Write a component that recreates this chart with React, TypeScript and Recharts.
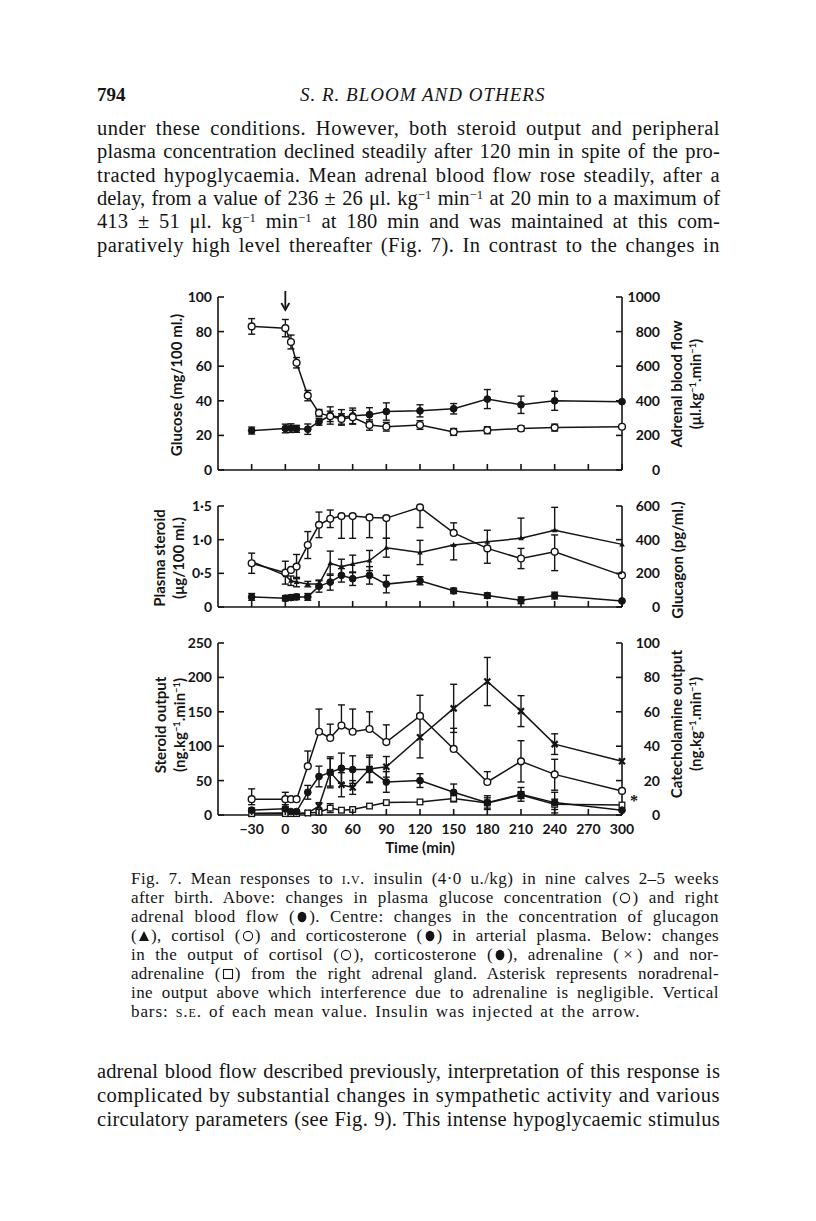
import React from 'react';
import { ComposedChart, Line, XAxis, YAxis, ErrorBar, ReferenceDot } from 'recharts';

// ---------- data ----------
const TIME = [-30, 0, 5, 10, 20, 30, 40, 50, 60, 75, 90, 120, 150, 180, 210, 240, 300];
const X_TICKS = [-30, 0, 30, 60, 90, 120, 150, 180, 210, 240, 270, 300];

// Top panel
const GLUCOSE = [83, 82, 74, 62, 43, 33, 31, 29.5, 30.5, 26, 25, 26, 22, 23, 24, 24.5, 25];
const GLUCOSE_SE: ([number, number] | null)[] = [[4.5, 4.5], [5, 5], [4, 4], [3, 3], [3, 3], [2, 2], [3, 3], [3, 3], [4, 4], [3, 3], [2.5, 2.5], [2.5, 2.5], [2, 2], [2, 2], [1.5, 1.5], [2, 2], null];
const BLOOD_FLOW = [228, 240, 242, 238, 236, 279, 315, 304, 313, 320, 338, 342, 354, 410, 377, 400, 395];
const BLOOD_FLOW_SE: ([number, number] | null)[] = [[20, 20], [25, 25], [25, 25], [20, 20], [30, 30], [20, 20], [50, 50], [45, 45], [45, 45], [40, 40], [50, 50], [35, 35], [30, 30], [55, 55], [50, 50], [55, 55], null];

// Middle panel
const CORTISOL_P = [0.65, 0.51, 0.55, 0.6, 0.92, 1.22, 1.31, 1.35, 1.35, 1.33, 1.32, 1.48, 1.1, 0.87, 0.72, 0.82, 0.47];
const CORTISOL_P_SE: ([number, number] | null)[] = [[0.15, 0.15], [0.17, 0.17], null, [0.18, 0.18], [0.2, 0.2], [0.19, 0.19], [0.13, 0.13], [0.33, 0.03], [0.33, 0.03], [0.3, 0.03], [0.3, 0.03], [0.3, 0], [0, 0.15], [0.22, 0.27], [0.15, 0.15], [0.28, 0.25], null];
const CORTICO_P = [0.15, 0.13, 0.14, 0.15, 0.15, 0.31, 0.37, 0.47, 0.42, 0.47, 0.34, 0.39, 0.24, 0.17, 0.1, 0.17, 0.09];
const CORTICO_P_SE: ([number, number] | null)[] = [[0.05, 0.05], [0.04, 0.04], [0.04, 0.04], [0.04, 0.04], [0.05, 0.05], [0.09, 0.09], [0.12, 0.12], [0.1, 0.1], [0.1, 0.1], [0.13, 0.13], [0.13, 0.13], [0.06, 0.06], [0.04, 0.04], [0.04, 0.04], [0.05, 0.05], [0.05, 0.05], null];
const GLUCAGON = [270, 188, 156, 148, 136, 136, 260, 240, 256, 276, 352, 324, 368, 388, 408, 456, 372];
const GLUCAGON_SE: ([number, number] | null)[] = [null, null, [28, 28], [28, 28], [16, 16], [20, 20], [72, 72], [44, 44], [52, 52], [60, 60], [56, 56], [72, 72], [88, 0], null, [0, 120], [0, 136], null];

// Bottom panel
const CORTISOL_OUT = [23, 23, 23, 23, 71, 121, 112, 130, 121, 125, 106, 144, 96, 48, 78, 59, 35];
const CORTISOL_OUT_SE: ([number, number] | null)[] = [[8, 15], [8, 10], null, null, [0, 22], [0, 33], [0, 20], [0, 30], [0, 33], [0, 25], [0, 25], [0, 30], [0, 30], [0, 15], [30, 30], [23, 22], null];
const CORTICO_OUT = [7, 9, 5, 5, 33, 56, 62, 68, 66, 66, 48, 50, 33, 18, 30, 18, 7];
const CORTICO_OUT_SE: ([number, number] | null)[] = [[3, 3], [3, 3], null, null, [10, 10], [15, 15], [20, 20], [22, 22], [20, 20], [18, 18], [15, 15], [10, 10], [12, 12], [10, 10], [10, 10], [15, 15], null];
const ADRENALINE = [0.8, 1.2, 1, 1, 1.2, 5.2, 24.8, 17.6, 16, 26.8, 28, 45.2, 62, 77.6, 60.4, 41.2, 31.2];
const ADRENALINE_SE: ([number, number] | null)[] = [null, null, null, null, null, [2, 2], [9, 9], [7, 7], [4, 4], [8, 8], [6, 6], [12, 12], [14, 14], [14, 14], [9, 9], [6, 6], null];
const NORADRENALINE = [0.8, 0.8, 0.8, 0.8, 1.2, 1.6, 4, 2.8, 3.2, 5.2, 7.2, 7.6, 9.6, 7, 11.6, 6.2, 5.8];
const NORADRENALINE_SE: ([number, number] | null)[] = [null, null, null, null, null, [1, 1], [2.6, 2.6], [1, 1], [1, 1], null, null, null, [2, 2], [3, 3], [2, 2], [3, 3], null];
const ASTERISK_LEVEL = 9;

const topRows = TIME.map((t, i) => ({ t, glu: GLUCOSE[i], gluSE: GLUCOSE_SE[i], abf: BLOOD_FLOW[i], abfSE: BLOOD_FLOW_SE[i] }));
const midRows = TIME.map((t, i) => ({ t, cort: CORTISOL_P[i], cortSE: CORTISOL_P_SE[i], cs: CORTICO_P[i], csSE: CORTICO_P_SE[i], gcg: GLUCAGON[i], gcgSE: GLUCAGON_SE[i] }));
const botRows = TIME.map((t, i) => ({ t, cort: CORTISOL_OUT[i], cortSE: CORTISOL_OUT_SE[i], cs: CORTICO_OUT[i], csSE: CORTICO_OUT_SE[i], adr: ADRENALINE[i], adrSE: ADRENALINE_SE[i], nor: NORADRENALINE[i], norSE: NORADRENALINE_SE[i] }));

// ---------- styles ----------
const INK = '#141414';
const SANS = 'Lato, "Open Sans", sans-serif';
const SERIF = '"Liberation Serif", "Times New Roman", serif';
const AXW = 1.6;
const LW = 1.5;

const fmtInt = (v: number) => (v < 0 ? '\u2212' + Math.abs(v) : String(v));
const fmtDot = (v: number) => (v === 0 ? '0' : v.toFixed(1).replace('.', '\u00B7'));

const leftTick = (fmt: (v: number) => string) => (p: any) => (
  <g key={`lt${p.index}`}>
    <line x1={p.x} y1={p.y} x2={p.x + 6} y2={p.y} stroke={INK} strokeWidth={AXW} />
    <text x={p.x - 6} y={p.y + 5} textAnchor="end" fontFamily={SANS} fontWeight={700} fontSize={14} fill={INK}>{fmt(p.payload.value)}</text>
  </g>
);
const rightTick = (fmt: (v: number) => string) => (p: any) => (
  <g key={`rt${p.index}`}>
    <line x1={p.x} y1={p.y} x2={p.x - 6} y2={p.y} stroke={INK} strokeWidth={AXW} />
    <text x={p.x + 38} y={p.y + 5} textAnchor="end" fontFamily={SANS} fontWeight={700} fontSize={14} fill={INK}>{fmt(p.payload.value)}</text>
  </g>
);
const xTick = (showLabel: boolean) => (p: any) => (
  <g key={`xt${p.index}`}>
    <line x1={p.x} y1={p.y} x2={p.x} y2={p.y - 6} stroke={INK} strokeWidth={AXW} />
    {showLabel ? (
      <text x={p.x} y={p.y + 19} textAnchor="middle" fontFamily={SANS} fontWeight={700} fontSize={14} fill={INK}>{fmtInt(p.payload.value)}</text>
    ) : null}
  </g>
);

const openDot = { r: 3.4, fill: '#fff', stroke: INK, strokeWidth: 1.4 };
const fillDot = { r: 3.4, fill: INK, stroke: INK, strokeWidth: 1 };
const triDot = (p: any) => (p.cx == null ? <g key={`tr${p.index}`} /> : (
  <path key={`tr${p.index}`} d={`M${p.cx},${p.cy - 3} L${p.cx + 2.8},${p.cy + 2} L${p.cx - 2.8},${p.cy + 2} Z`} fill={INK} />
));
const crossDot = (p: any) => (p.cx == null ? <g key={`cr${p.index}`} /> : (
  <path key={`cr${p.index}`} d={`M${p.cx - 3},${p.cy - 3} L${p.cx + 3},${p.cy + 3} M${p.cx - 3},${p.cy + 3} L${p.cx + 3},${p.cy - 3}`} stroke={INK} strokeWidth={2.2} />
));
const squareDot = (p: any) => (p.cx == null ? <g key={`sq${p.index}`} /> : (
  <rect key={`sq${p.index}`} x={p.cx - 2.8} y={p.cy - 2.8} width={5.6} height={5.6} fill="#fff" stroke={INK} strokeWidth={1.3} />
));

const EB = (k: string) => <ErrorBar dataKey={k} direction="y" width={3.5} stroke={INK} strokeWidth={1.4} />;

const xAxisProps = {
  dataKey: 't',
  type: 'number' as const,
  domain: [-60, 300],
  ticks: X_TICKS,
  interval: 0 as const,
  tickLine: false,
  tickSize: 0,
  tickMargin: 0,
  axisLine: { stroke: INK, strokeWidth: AXW },
};
const yCommon = {
  width: 60,
  interval: 0 as const,
  tickLine: false,
  tickSize: 0,
  tickMargin: 0,
  axisLine: { stroke: INK, strokeWidth: AXW },
};

const Rot = ({ cx, cy, lines, size = 15 }: { cx: number; cy: number; lines: React.ReactNode[]; size?: number }) => (
  <div style={{ position: 'absolute', left: cx, top: cy, transform: 'translate(-50%, -50%) rotate(-90deg)', whiteSpace: 'nowrap', textAlign: 'center', fontFamily: SANS, fontWeight: 700, fontSize: size, lineHeight: '19px', color: INK }}>
    {lines.map((l, i) => <div key={i}>{l}</div>)}
  </div>
);

const Sup = ({ children }: { children: React.ReactNode }) => (
  <sup style={{ fontSize: '0.62em', verticalAlign: '0.5em', lineHeight: 0 }}>{children}</sup>
);

// small inline symbols for the caption
const Sym = ({ kind }: { kind: 'open' | 'fill' | 'tri' | 'sq' }) => (
  <svg width={12} height={12} viewBox="0 0 12 12" style={{ display: 'inline-block', verticalAlign: '-1px', margin: '0 1px' }}>
    {kind === 'open' && <circle cx={6} cy={6} r={4.6} fill="none" stroke={INK} strokeWidth={1.1} />}
    {kind === 'fill' && <ellipse cx={6} cy={6} rx={4.4} ry={5.3} fill={INK} />}
    {kind === 'tri' && <path d="M6,1 L11,11 L1,11 Z" fill={INK} />}
    {kind === 'sq' && <rect x={1.5} y={1.5} width={9} height={9} fill="none" stroke={INK} strokeWidth={1.1} />}
  </svg>
);

const unitsKg = (<span>(ng.kg<Sup>{'\u22121'}</Sup>.min<Sup>{'\u22121'}</Sup>)</span>);
const unitsFlow = (<span>({'\u03BC'}l.kg<Sup>{'\u22121'}</Sup>.min<Sup>{'\u22121'}</Sup>)</span>);

const PLine = ({ y, left, width, size, children, last = false, ls = 0, ws = 0 }: any) => (
  <div style={{ position: 'absolute', left, top: y - size * 0.62, width, fontFamily: SERIF, fontSize: size, lineHeight: `${Math.round(size * 1.15)}px`, textAlign: 'justify', textAlignLast: last ? 'left' : 'justify', letterSpacing: ls, wordSpacing: ws, whiteSpace: 'nowrap', color: INK }}>
    {children}
  </div>
);

const SC = ({ children }: { children: React.ReactNode }) => <span style={{ fontVariant: 'small-caps' }}>{children}</span>;

export default function App() {
  const P = { left: 97, width: 623, size: 20.5 };
  const C = { left: 131, width: 588, size: 17 };
  return (
    <div style={{ position: 'absolute', left: 0, top: 0, width: 816, height: 1221, background: '#fff', overflow: 'hidden' }}>
      {/* header */}
      <div style={{ position: 'absolute', left: 97, top: 84, fontFamily: SERIF, fontSize: 19, fontWeight: 700, color: INK }}>794</div>
      <div style={{ position: 'absolute', left: 300, top: 84, width: 258, fontFamily: SERIF, fontSize: 19, fontStyle: 'italic', letterSpacing: 1, color: INK }}>S. R. BLOOM AND OTHERS</div>

      <PLine y={129} {...P} ls={0.5}>under these conditions. However, both steroid output and peripheral</PLine>
      <PLine y={152} {...P} ls={0.15}>plasma concentration declined steadily after 120 min in spite of the pro-</PLine>
      <PLine y={176} {...P} ls={0.45}>tracted hypoglycaemia. Mean adrenal blood flow rose steadily, after a</PLine>
      <PLine y={199} {...P}>delay, from a value of 236{'\u00A0'}±{'\u00A0'}26 {'\u03BC'}l. kg<Sup>{'\u22121'}</Sup> min<Sup>{'\u22121'}</Sup> at 20 min to a maximum of</PLine>
      <PLine y={222} {...P} ls={0.1}>413{'\u00A0'}±{'\u00A0'}51 {'\u03BC'}l. kg<Sup>{'\u22121'}</Sup> min<Sup>{'\u22121'}</Sup> at 180 min and was maintained at this com-</PLine>
      <PLine y={246} {...P} ls={0.5}>paratively high level thereafter (Fig. 7). In contrast to the changes in</PLine>

      {/* axis titles */}
      <Rot cx={176} cy={385} lines={['Glucose (mg/100 ml.)']} />
      <Rot cx={686} cy={384} lines={['Adrenal blood flow', unitsFlow]} />
      <Rot cx={169} cy={558} lines={['Plasma steroid', <span>({'\u03BC'}g/100 ml.)</span>]} />
      <Rot cx={677} cy={560} lines={['Glucagon (pg/ml.)']} />
      <Rot cx={170} cy={725} lines={['Steroid output', unitsKg]} />
      <Rot cx={686} cy={724} lines={['Catecholamine output', unitsKg]} />

      {/* top panel */}
      <div style={{ position: 'absolute', left: 140, top: 280 }}>
        <ComposedChart width={560} height={200} data={topRows} margin={{ top: 17, right: 18, bottom: 0, left: 18 }}>
          <XAxis {...xAxisProps} height={10} tick={xTick(false)} />
          <YAxis {...yCommon} yAxisId="L" orientation="left" domain={[0, 100]} ticks={[0, 20, 40, 60, 80, 100]} tick={leftTick(fmtInt)} />
          <YAxis {...yCommon} yAxisId="R" orientation="right" domain={[0, 1000]} ticks={[0, 200, 400, 600, 800, 1000]} tick={rightTick(fmtInt)} />
          <Line yAxisId="R" dataKey="abf" stroke={INK} strokeWidth={LW} dot={fillDot} isAnimationActive={false}>{EB('abfSE')}</Line>
          <Line yAxisId="L" dataKey="glu" stroke={INK} strokeWidth={LW} dot={openDot} isAnimationActive={false}>{EB('gluSE')}</Line>
          <ReferenceDot yAxisId="L" x={0} y={92.5} r={0} ifOverflow="visible" shape={(p: any) => (
            <g>
              <line x1={p.cx} y1={p.cy - 19} x2={p.cx} y2={p.cy} stroke={INK} strokeWidth={1.8} />
              <path d={`M${p.cx - 4},${p.cy - 7} L${p.cx},${p.cy} L${p.cx + 4},${p.cy - 7}`} fill="none" stroke={INK} strokeWidth={1.8} />
            </g>
          )} />
        </ComposedChart>
      </div>

      {/* middle panel */}
      <div style={{ position: 'absolute', left: 140, top: 490 }}>
        <ComposedChart width={560} height={127} data={midRows} margin={{ top: 16, right: 18, bottom: 0, left: 18 }}>
          <XAxis {...xAxisProps} height={10} tick={xTick(false)} />
          <YAxis {...yCommon} yAxisId="L" orientation="left" domain={[0, 1.5]} ticks={[0, 0.5, 1, 1.5]} tick={leftTick(fmtDot)} />
          <YAxis {...yCommon} yAxisId="R" orientation="right" domain={[0, 600]} ticks={[0, 200, 400, 600]} tick={rightTick(fmtInt)} />
          <Line yAxisId="R" dataKey="gcg" stroke={INK} strokeWidth={LW} dot={triDot} isAnimationActive={false}>{EB('gcgSE')}</Line>
          <Line yAxisId="L" dataKey="cs" stroke={INK} strokeWidth={LW} dot={fillDot} isAnimationActive={false}>{EB('csSE')}</Line>
          <Line yAxisId="L" dataKey="cort" stroke={INK} strokeWidth={LW} dot={openDot} isAnimationActive={false}>{EB('cortSE')}</Line>
        </ComposedChart>
      </div>

      {/* bottom panel */}
      <div style={{ position: 'absolute', left: 140, top: 625 }}>
        <ComposedChart width={560} height={220} data={botRows} margin={{ top: 18, right: 18, bottom: 0, left: 18 }}>
          <XAxis {...xAxisProps} height={30} tick={xTick(true)} />
          <YAxis {...yCommon} yAxisId="L" orientation="left" domain={[0, 250]} ticks={[0, 50, 100, 150, 200, 250]} tick={leftTick(fmtInt)} />
          <YAxis {...yCommon} yAxisId="R" orientation="right" domain={[0, 100]} ticks={[0, 20, 40, 60, 80, 100]} tick={rightTick(fmtInt)} />
          <Line yAxisId="R" dataKey="adr" stroke={INK} strokeWidth={LW} dot={crossDot} isAnimationActive={false}>{EB('adrSE')}</Line>
          <Line yAxisId="R" dataKey="nor" stroke={INK} strokeWidth={LW} dot={squareDot} isAnimationActive={false}>{EB('norSE')}</Line>
          <Line yAxisId="L" dataKey="cs" stroke={INK} strokeWidth={LW} dot={fillDot} isAnimationActive={false}>{EB('csSE')}</Line>
          <Line yAxisId="L" dataKey="cort" stroke={INK} strokeWidth={LW} dot={openDot} isAnimationActive={false}>{EB('cortSE')}</Line>
          <ReferenceDot yAxisId="R" x={300} y={ASTERISK_LEVEL} r={0} ifOverflow="visible" shape={(p: any) => (
            <text x={p.cx + 8} y={p.cy + 6} fontFamily={SERIF} fontSize={16} fontWeight={700} fill={INK}>*</text>
          )} />
        </ComposedChart>
      </div>
      <div style={{ position: 'absolute', left: 420, top: 847, transform: 'translate(-50%, -50%)', fontFamily: SANS, fontWeight: 700, fontSize: 15, color: INK, whiteSpace: 'nowrap' }}>Time (min)</div>

      {/* caption */}
      <PLine y={880} {...C} ls={0.45}>Fig. 7. Mean responses to <SC>i.v.</SC> insulin (4·0 u./kg) in nine calves 2–5 weeks</PLine>
      <PLine y={899} {...C} ls={0.45}>after birth. Above: changes in plasma glucose concentration (<Sym kind="open" />) and right</PLine>
      <PLine y={918} {...C} ls={0.5}>adrenal blood flow (<Sym kind="fill" />). Centre: changes in the concentration of glucagon</PLine>
      <PLine y={937} {...C} ls={0.35}>(<Sym kind="tri" />), cortisol (<Sym kind="open" />) and corticosterone (<Sym kind="fill" />) in arterial plasma. Below: changes</PLine>
      <PLine y={956} {...C} ls={0.45}>in the output of cortisol (<Sym kind="open" />), corticosterone (<Sym kind="fill" />), adrenaline ({'\u2009'}×{'\u2009'}) and nor-</PLine>
      <PLine y={975} {...C} ls={0.25}>adrenaline (<Sym kind="sq" />) from the right adrenal gland. Asterisk represents noradrenal-</PLine>
      <PLine y={994} {...C} ls={0.45}>ine output above which interference due to adrenaline is negligible. Vertical</PLine>
      <PLine y={1013} {...C} last ls={0.9} ws={2}>bars: <SC>s.e.</SC> of each mean value. Insulin was injected at the arrow.</PLine>

      <PLine y={1072} {...P} ls={0.1}>adrenal blood flow described previously, interpretation of this response is</PLine>
      <PLine y={1096} {...P} ls={0.5}>complicated by substantial changes in sympathetic activity and various</PLine>
      <PLine y={1120} {...P} ls={0.3}>circulatory parameters (see Fig. 9). This intense hypoglycaemic stimulus</PLine>
    </div>
  );
}
